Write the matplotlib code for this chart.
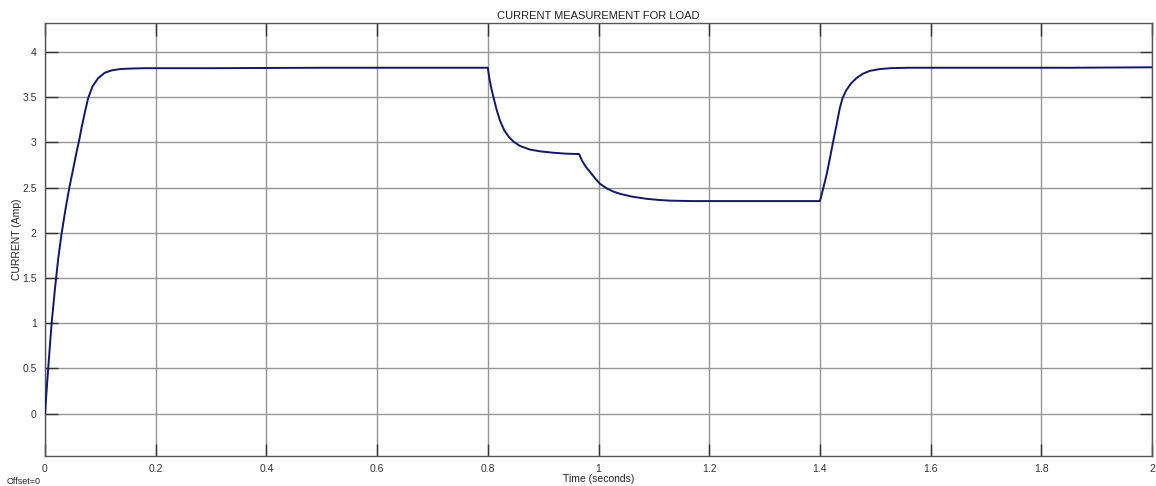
import matplotlib
matplotlib.use("Agg")
import matplotlib.pyplot as plt

# Time (s) and load current (A)
time_s = [0.000, 0.004, 0.008, 0.012, 0.018, 0.024, 0.030, 0.037, 0.044, 0.051, 0.057,
          0.062, 0.066, 0.072, 0.078, 0.086, 0.096, 0.108, 0.120, 0.135, 0.150, 0.180,
          0.300, 0.500, 0.700, 0.800,
          0.803, 0.807, 0.811, 0.816, 0.822, 0.830, 0.838, 0.846, 0.858, 0.876, 0.895,
          0.918, 0.940, 0.965,
          0.970, 0.977, 0.985, 0.994, 1.003, 1.015, 1.027, 1.039, 1.060, 1.087, 1.110,
          1.129, 1.170, 1.250, 1.330, 1.400,
          1.406, 1.412, 1.418, 1.423, 1.430, 1.436, 1.441, 1.447, 1.456, 1.466, 1.478,
          1.490, 1.508, 1.527, 1.560, 1.700, 1.850, 2.000]
current_a = [0.00, 0.35, 0.68, 1.00, 1.38, 1.72, 1.99, 2.26, 2.50, 2.71, 2.89,
             3.03, 3.16, 3.33, 3.49, 3.62, 3.71, 3.77, 3.795, 3.81, 3.815, 3.82,
             3.82, 3.825, 3.825, 3.825,
             3.70, 3.58, 3.48, 3.36, 3.24, 3.13, 3.06, 3.01, 2.96, 2.92, 2.90,
             2.885, 2.875, 2.870,
             2.80, 2.73, 2.67, 2.60, 2.54, 2.49, 2.455, 2.43, 2.40, 2.375, 2.362,
             2.355, 2.350, 2.350, 2.350, 2.350,
             2.49, 2.64, 2.82, 2.98, 3.19, 3.38, 3.49, 3.57, 3.65, 3.71, 3.76,
             3.79, 3.81, 3.82, 3.825, 3.825, 3.825, 3.83]

x_ticks = [0, 0.2, 0.4, 0.6, 0.8, 1, 1.2, 1.4, 1.6, 1.8, 2]
x_tick_labels = ["0", "0.2", "0.4", "0.6", "0.8", "1", "1.2", "1.4", "1.6", "1.8", "2"]
y_ticks = [0, 0.5, 1, 1.5, 2, 2.5, 3, 3.5, 4]
y_tick_labels = ["0", "0.5", "1", "1.5", "2", "2.5", "3", "3.5", "4"]

fig = plt.figure(figsize=(11.56, 4.86), dpi=100)
ax = fig.add_axes([45/1156, 1 - 456/486, (1152 - 45)/1156, (456 - 23)/486])

ax.plot(time_s, current_a, color="#14166b", lw=1.4, zorder=3)

ax.set_xlim(0, 2)
ax.set_ylim(-0.47, 4.32)
ax.set_xticks(x_ticks)
ax.set_xticklabels(x_tick_labels)
ax.set_yticks(y_ticks)
ax.set_yticklabels(y_tick_labels)

ax.grid(True, color="#959595", lw=1.0, ls="-", zorder=1)
ax.tick_params(direction="in", length=9, width=1.0, color="#333333",
               labelsize=7.5, labelcolor="#333333", top=True, right=True, pad=6)
for sp in ax.spines.values():
    sp.set_color("#555555")
    sp.set_linewidth(1.0)

ax.set_title("CURRENT MEASUREMENT FOR LOAD", fontsize=8, color="#222222", pad=3,
             family="Liberation Sans")
ax.set_xlabel("Time (seconds)", fontsize=7.5, color="#222222", labelpad=0,
              family="Liberation Sans")
ax.set_ylabel("CURRENT (Amp)", fontsize=7.5, color="#222222", labelpad=0,
              family="Liberation Sans")
for lbl in ax.get_xticklabels() + ax.get_yticklabels():
    lbl.set_family("Liberation Sans")

fig.text(7/1156, 1 - 481/486, "Offset=0", fontsize=6.5, color="#222222",
         va="center", ha="left", family="Liberation Sans")

fig.savefig("out.png", dpi=100, facecolor="white")
